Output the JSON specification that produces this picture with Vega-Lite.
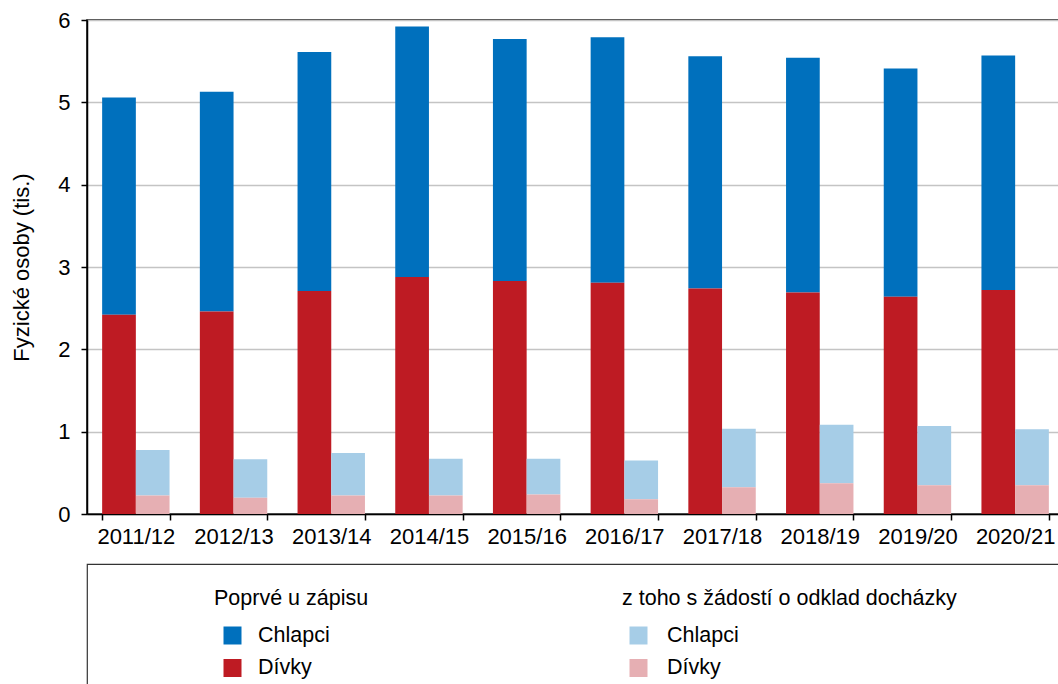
{
  "$schema": "https://vega.github.io/schema/vega-lite/v6.json",
  "background": "white",
  "padding": {"left": 10, "top": 8, "right": 0, "bottom": 0},
  "spacing": 15,
  "config": {
    "font": "Liberation Sans",
    "text": {"font": "Liberation Sans"}
  },
  "datasets": {
    "zapis": [
      {"rok": "2011/12", "skupina": "Poprvé u zápisu", "pohlavi": "Chlapci", "rada": "Poprvé u zápisu: Chlapci", "hodnota": 2.64},
      {"rok": "2011/12", "skupina": "Poprvé u zápisu", "pohlavi": "Dívky", "rada": "Poprvé u zápisu: Dívky", "hodnota": 2.42},
      {"rok": "2011/12", "skupina": "z toho s žádostí o odklad docházky", "pohlavi": "Chlapci", "rada": "Odklad: Chlapci", "hodnota": 0.55},
      {"rok": "2011/12", "skupina": "z toho s žádostí o odklad docházky", "pohlavi": "Dívky", "rada": "Odklad: Dívky", "hodnota": 0.226},
      {"rok": "2012/13", "skupina": "Poprvé u zápisu", "pohlavi": "Chlapci", "rada": "Poprvé u zápisu: Chlapci", "hodnota": 2.67},
      {"rok": "2012/13", "skupina": "Poprvé u zápisu", "pohlavi": "Dívky", "rada": "Poprvé u zápisu: Dívky", "hodnota": 2.46},
      {"rok": "2012/13", "skupina": "z toho s žádostí o odklad docházky", "pohlavi": "Chlapci", "rada": "Odklad: Chlapci", "hodnota": 0.468},
      {"rok": "2012/13", "skupina": "z toho s žádostí o odklad docházky", "pohlavi": "Dívky", "rada": "Odklad: Dívky", "hodnota": 0.197},
      {"rok": "2013/14", "skupina": "Poprvé u zápisu", "pohlavi": "Chlapci", "rada": "Poprvé u zápisu: Chlapci", "hodnota": 2.90},
      {"rok": "2013/14", "skupina": "Poprvé u zápisu", "pohlavi": "Dívky", "rada": "Poprvé u zápisu: Dívky", "hodnota": 2.71},
      {"rok": "2013/14", "skupina": "z toho s žádostí o odklad docházky", "pohlavi": "Chlapci", "rada": "Odklad: Chlapci", "hodnota": 0.514},
      {"rok": "2013/14", "skupina": "z toho s žádostí o odklad docházky", "pohlavi": "Dívky", "rada": "Odklad: Dívky", "hodnota": 0.226},
      {"rok": "2014/15", "skupina": "Poprvé u zápisu", "pohlavi": "Chlapci", "rada": "Poprvé u zápisu: Chlapci", "hodnota": 3.04},
      {"rok": "2014/15", "skupina": "Poprvé u zápisu", "pohlavi": "Dívky", "rada": "Poprvé u zápisu: Dívky", "hodnota": 2.88},
      {"rok": "2014/15", "skupina": "z toho s žádostí o odklad docházky", "pohlavi": "Chlapci", "rada": "Odklad: Chlapci", "hodnota": 0.444},
      {"rok": "2014/15", "skupina": "z toho s žádostí o odklad docházky", "pohlavi": "Dívky", "rada": "Odklad: Dívky", "hodnota": 0.226},
      {"rok": "2015/16", "skupina": "Poprvé u zápisu", "pohlavi": "Chlapci", "rada": "Poprvé u zápisu: Chlapci", "hodnota": 2.94},
      {"rok": "2015/16", "skupina": "Poprvé u zápisu", "pohlavi": "Dívky", "rada": "Poprvé u zápisu: Dívky", "hodnota": 2.83},
      {"rok": "2015/16", "skupina": "z toho s žádostí o odklad docházky", "pohlavi": "Chlapci", "rada": "Odklad: Chlapci", "hodnota": 0.432},
      {"rok": "2015/16", "skupina": "z toho s žádostí o odklad docházky", "pohlavi": "Dívky", "rada": "Odklad: Dívky", "hodnota": 0.238},
      {"rok": "2016/17", "skupina": "Poprvé u zápisu", "pohlavi": "Chlapci", "rada": "Poprvé u zápisu: Chlapci", "hodnota": 2.98},
      {"rok": "2016/17", "skupina": "Poprvé u zápisu", "pohlavi": "Dívky", "rada": "Poprvé u zápisu: Dívky", "hodnota": 2.81},
      {"rok": "2016/17", "skupina": "z toho s žádostí o odklad docházky", "pohlavi": "Chlapci", "rada": "Odklad: Chlapci", "hodnota": 0.47},
      {"rok": "2016/17", "skupina": "z toho s žádostí o odklad docházky", "pohlavi": "Dívky", "rada": "Odklad: Dívky", "hodnota": 0.18},
      {"rok": "2017/18", "skupina": "Poprvé u zápisu", "pohlavi": "Chlapci", "rada": "Poprvé u zápisu: Chlapci", "hodnota": 2.82},
      {"rok": "2017/18", "skupina": "Poprvé u zápisu", "pohlavi": "Dívky", "rada": "Poprvé u zápisu: Dívky", "hodnota": 2.74},
      {"rok": "2017/18", "skupina": "z toho s žádostí o odklad docházky", "pohlavi": "Chlapci", "rada": "Odklad: Chlapci", "hodnota": 0.711},
      {"rok": "2017/18", "skupina": "z toho s žádostí o odklad docházky", "pohlavi": "Dívky", "rada": "Odklad: Dívky", "hodnota": 0.324},
      {"rok": "2018/19", "skupina": "Poprvé u zápisu", "pohlavi": "Chlapci", "rada": "Poprvé u zápisu: Chlapci", "hodnota": 2.85},
      {"rok": "2018/19", "skupina": "Poprvé u zápisu", "pohlavi": "Dívky", "rada": "Poprvé u zápisu: Dívky", "hodnota": 2.69},
      {"rok": "2018/19", "skupina": "z toho s žádostí o odklad docházky", "pohlavi": "Chlapci", "rada": "Odklad: Chlapci", "hodnota": 0.71},
      {"rok": "2018/19", "skupina": "z toho s žádostí o odklad docházky", "pohlavi": "Dívky", "rada": "Odklad: Dívky", "hodnota": 0.374},
      {"rok": "2019/20", "skupina": "Poprvé u zápisu", "pohlavi": "Chlapci", "rada": "Poprvé u zápisu: Chlapci", "hodnota": 2.77},
      {"rok": "2019/20", "skupina": "Poprvé u zápisu", "pohlavi": "Dívky", "rada": "Poprvé u zápisu: Dívky", "hodnota": 2.64},
      {"rok": "2019/20", "skupina": "z toho s žádostí o odklad docházky", "pohlavi": "Chlapci", "rada": "Odklad: Chlapci", "hodnota": 0.72},
      {"rok": "2019/20", "skupina": "z toho s žádostí o odklad docházky", "pohlavi": "Dívky", "rada": "Odklad: Dívky", "hodnota": 0.35},
      {"rok": "2020/21", "skupina": "Poprvé u zápisu", "pohlavi": "Chlapci", "rada": "Poprvé u zápisu: Chlapci", "hodnota": 2.85},
      {"rok": "2020/21", "skupina": "Poprvé u zápisu", "pohlavi": "Dívky", "rada": "Poprvé u zápisu: Dívky", "hodnota": 2.72},
      {"rok": "2020/21", "skupina": "z toho s žádostí o odklad docházky", "pohlavi": "Chlapci", "rada": "Odklad: Chlapci", "hodnota": 0.68},
      {"rok": "2020/21", "skupina": "z toho s žádostí o odklad docházky", "pohlavi": "Dívky", "rada": "Odklad: Dívky", "hodnota": 0.35}
    ],
    "legenda": [
      {"skupina": "Poprvé u zápisu", "pohlavi": "Chlapci", "rada": "Poprvé u zápisu: Chlapci"},
      {"skupina": "Poprvé u zápisu", "pohlavi": "Dívky", "rada": "Poprvé u zápisu: Dívky"},
      {"skupina": "z toho s žádostí o odklad docházky", "pohlavi": "Chlapci", "rada": "Odklad: Chlapci"},
      {"skupina": "z toho s žádostí o odklad docházky", "pohlavi": "Dívky", "rada": "Odklad: Dívky"}
    ]
  },
  "vconcat": [
    {
      "width": 977,
      "height": 494,
      "view": {"stroke": "black", "strokeWidth": 1.5},
      "data": {"name": "zapis"},
      "mark": {"type": "bar"},
      "encoding": {
        "x": {
          "field": "rok",
          "type": "nominal",
          "scale": {"paddingInner": 0.31, "paddingOuter": 0.155},
          "axis": {
            "title": null,
            "labelAngle": 0,
            "labelFontSize": 22,
            "labelColor": "black",
            "labelPadding": 6,
            "tickBand": "extent",
            "tickColor": "black",
            "tickSize": 6,
            "tickWidth": 1.5,
            "domainColor": "black",
            "domainWidth": 1.5
          }
        },
        "xOffset": {
          "field": "skupina",
          "type": "nominal",
          "scale": {"domain": ["Poprvé u zápisu", "z toho s žádostí o odklad docházky"], "paddingInner": 0, "paddingOuter": 0}
        },
        "y": {
          "field": "hodnota",
          "type": "quantitative",
          "stack": "zero",
          "scale": {"domain": [0, 6], "nice": false},
          "axis": {
            "title": "Fyzické osoby (tis.)",
            "values": [0, 1, 2, 3, 4, 5, 6],
            "titleFontSize": 22,
            "titleFontWeight": "normal",
            "titleColor": "black",
            "titlePadding": 24,
            "labelFontSize": 22,
            "labelColor": "black",
            "labelPadding": 11,
            "gridColor": "#c4c4c4",
            "gridWidth": 1.5,
            "domainColor": "black",
            "domainWidth": 1.5,
            "tickColor": "black",
            "tickSize": 6,
            "tickWidth": 1.5
          }
        },
        "color": {
          "field": "rada",
          "type": "nominal",
          "scale": {
            "domain": ["Poprvé u zápisu: Chlapci", "Poprvé u zápisu: Dívky", "Odklad: Chlapci", "Odklad: Dívky"],
            "range": ["#0070bd", "#be1b23", "#a6cde7", "#e6afb3"]
          },
          "legend": null
        },
        "order": {"field": "pohlavi", "sort": "descending"}
      }
    },
    {
      "width": 1000,
      "height": 140,
      "view": {"stroke": "#333333", "strokeWidth": 1.2},
      "data": {"name": "legenda"},
      "resolve": {"scale": {"x": "independent"}},
      "layer": [
        {
          "mark": {"type": "square", "filled": true, "opacity": 1, "size": 324},
          "encoding": {
            "x": {"field": "skupina", "type": "nominal", "scale": {"type": "point", "padding": 0, "domain": ["Poprvé u zápisu", "z toho s žádostí o odklad docházky"], "range": [145.5, 551.5]}, "axis": null},
            "y": {"field": "pohlavi", "type": "nominal", "scale": {"type": "point", "padding": 0, "domain": ["Chlapci", "Dívky"], "range": [71.5, 104]}, "axis": null},
            "color": {"field": "rada", "type": "nominal", "legend": null}
          }
        },
        {
          "mark": {"type": "text", "align": "left", "baseline": "middle", "fontSize": 21.5, "color": "black"},
          "encoding": {
            "x": {"field": "skupina", "type": "nominal", "scale": {"type": "point", "padding": 0, "domain": ["Poprvé u zápisu", "z toho s žádostí o odklad docházky"], "range": [171, 580]}, "axis": null},
            "y": {"field": "pohlavi", "type": "nominal", "scale": {"type": "point", "padding": 0, "domain": ["Chlapci", "Dívky"], "range": [71.5, 104]}, "axis": null},
            "text": {"field": "pohlavi"}
          }
        },
        {
          "transform": [{"filter": "datum.pohlavi === 'Chlapci'"}],
          "mark": {"type": "text", "align": "left", "baseline": "middle", "fontSize": 21.5, "color": "black", "dy": -37},
          "encoding": {
            "x": {"field": "skupina", "type": "nominal", "scale": {"type": "point", "padding": 0, "domain": ["Poprvé u zápisu", "z toho s žádostí o odklad docházky"], "range": [127, 535]}, "axis": null},
            "y": {"field": "pohlavi", "type": "nominal", "scale": {"type": "point", "padding": 0, "domain": ["Chlapci", "Dívky"], "range": [71.5, 104]}, "axis": null},
            "text": {"field": "skupina"}
          }
        }
      ]
    }
  ]
}
